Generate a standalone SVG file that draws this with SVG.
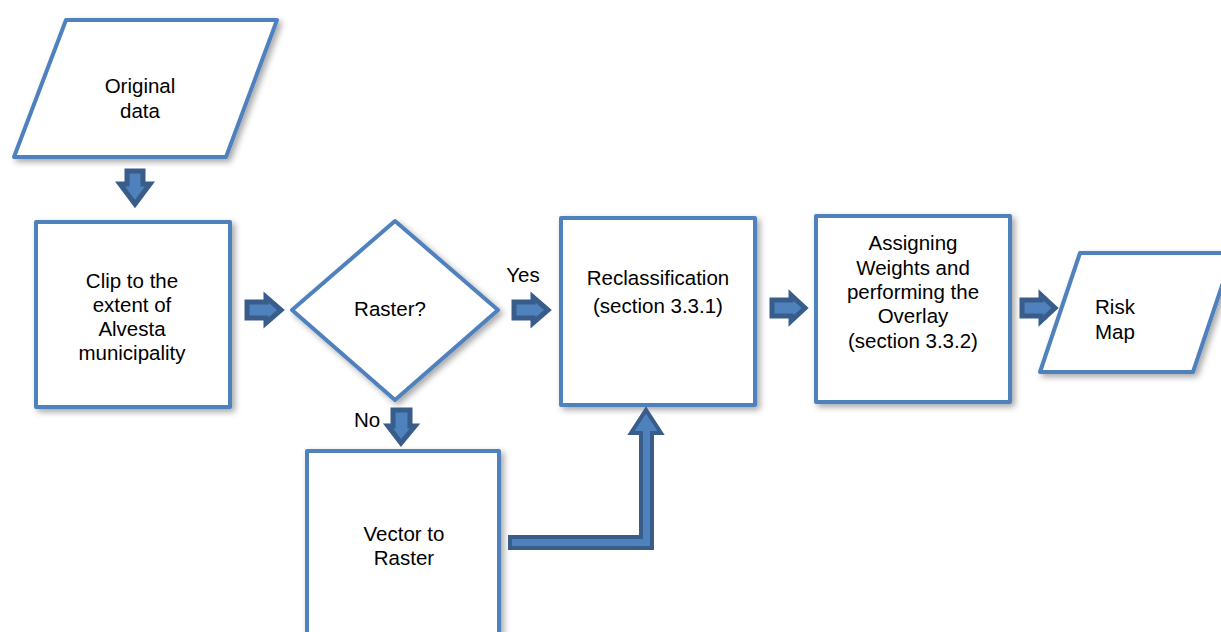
<svg xmlns="http://www.w3.org/2000/svg" width="1221" height="632" viewBox="0 0 1221 632">
<defs>
<filter id="sh" x="-10%" y="-10%" width="130%" height="130%">
<feDropShadow dx="3" dy="3" stdDeviation="3" flood-color="#000" flood-opacity="0.35"/>
</filter>
<style>
.box{fill:#fff;stroke:#4F81BD;stroke-width:4;stroke-linejoin:round;filter:url(#sh)}
.arr{fill:#4F81BD;stroke:#385D8A;stroke-width:5;stroke-linejoin:miter}
.big{stroke-width:4}
text{font-family:"Liberation Sans",Arial,sans-serif;font-size:20.5px;fill:#000;text-anchor:middle}
</style>
</defs>
<rect width="1221" height="632" fill="#fff"/>
<g id="original-data">
<polygon class="box" points="66,20 277,20 226,157 14,157"/>
<text x="140" y="93">Original</text>
<text x="140" y="118">data</text>
</g>
<g id="clip">
<rect class="box" x="36" y="222" width="194" height="185"/>
<text x="132" y="288">Clip to the</text>
<text x="132" y="312">extent of</text>
<text x="132" y="336">Alvesta</text>
<text x="132" y="360">municipality</text>
</g>
<g id="raster">
<polygon class="box" points="395,221 498,310 395,400 292,310"/>
<text x="390" y="316">Raster?</text>
</g>
<g id="reclass">
<rect class="box" x="561" y="218" width="194" height="187"/>
<text x="658" y="285">Reclassification</text>
<text x="658" y="313">(section 3.3.1)</text>
</g>
<g id="weights">
<rect class="box" x="816" y="216" width="194" height="186"/>
<text x="913" y="250">Assigning</text>
<text x="913" y="275">Weights and</text>
<text x="913" y="299">performing the</text>
<text x="913" y="323">Overlay</text>
<text x="913" y="348">(section 3.3.2)</text>
</g>
<g id="risk-map">
<polygon class="box" points="1080,253 1233,253 1193,372 1040,372"/>
<text x="1115" y="314">Risk</text>
<text x="1115" y="339">Map</text>
</g>
<g id="vector">
<rect class="box" x="307" y="451" width="192" height="200"/>
<text x="404" y="541">Vector to</text>
<text x="404" y="565">Raster</text>
</g>
<g id="connectors">
<polygon class="arr" points="127,171 143,171 143,184 150,184 135,204 120,184 127,184"/>
<polygon class="arr" points="247,302 266,302 266,297 281,310 266,323 266,318 247,318"/>
<polygon class="arr" points="514,302 533,302 533,297 548,310 533,323 533,318 514,318"/>
<polygon class="arr" points="772,300 791,300 791,295 805,308 791,321 791,316 772,316"/>
<polygon class="arr" points="1022,300 1041,300 1041,295 1055,308 1041,321 1041,316 1022,316"/>
<polygon class="arr" points="393,410 410,410 410,426 415,426 401,443 388,426 393,426"/>
<polygon class="arr big" points="510,537 641,537 641,433 631,433 646,410 661,433 652,433 652,548 510,548"/>
<text x="523" y="282">Yes</text>
<text x="367" y="427">No</text>
</g>
</svg>
